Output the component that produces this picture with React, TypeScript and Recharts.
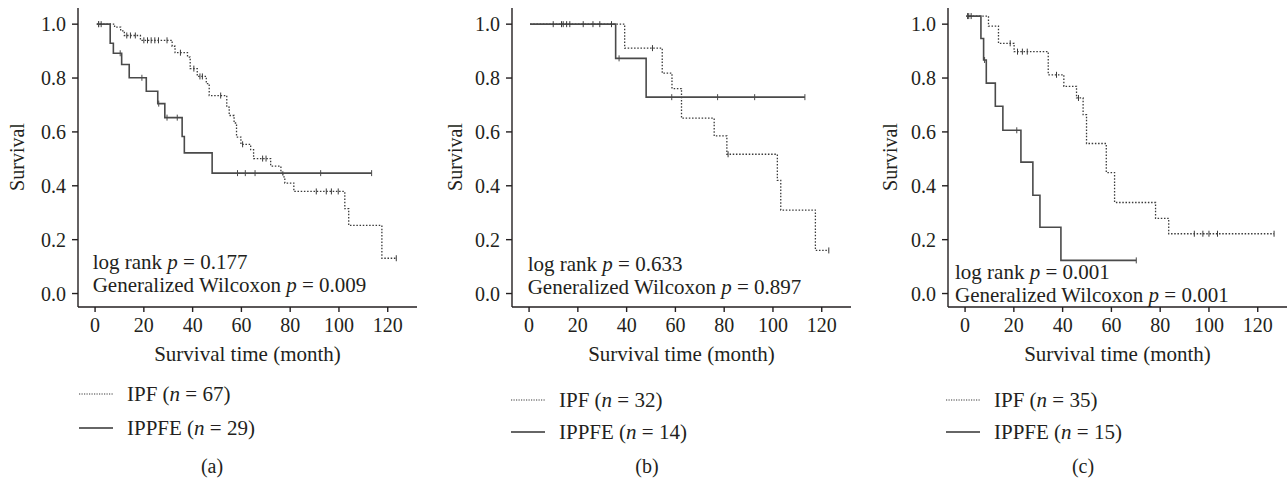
import React from 'react';
import { LineChart, Line, XAxis, YAxis } from 'recharts';

// ---- panel (a) ----
const ipfA_time = [0.7, 8.0, 10.5, 12.0, 18.6, 31.6, 32.8, 37.9, 39.0, 41.9, 45.6, 46.8, 54.0, 55.0, 57.0, 58.0, 59.8, 63.8, 65.0, 72.0, 76.2, 77.0, 77.8, 81.5, 102.4, 104.0, 117.6, 123.5];
const ipfA_surv = [1.0, 0.989, 0.975, 0.958, 0.94, 0.918, 0.894, 0.878, 0.835, 0.806, 0.779, 0.735, 0.692, 0.661, 0.633, 0.581, 0.554, 0.534, 0.501, 0.473, 0.451, 0.433, 0.41, 0.379, 0.315, 0.253, 0.131, 0.131];
const ipfA_cens = [1.5, 2.5, 13.0, 14.5, 16.5, 20.0, 21.5, 23.0, 24.5, 26.0, 29.5, 35.0, 40.5, 43.0, 44.0, 51.5, 60.5, 68.7, 70.1, 90.7, 94.8, 96.9, 99.7, 123.5];
const ippfeA_time = [0.7, 6.2, 7.5, 10.9, 14.0, 21.0, 25.7, 28.6, 35.7, 36.6, 48.0, 113.4];
const ippfeA_surv = [1.0, 0.929, 0.892, 0.85, 0.801, 0.751, 0.705, 0.653, 0.583, 0.522, 0.447, 0.447];
const ippfeA_cens = [1.4, 10.3, 19.2, 26.1, 29.5, 33.7, 58.4, 61.6, 65.6, 92.5, 113.4];

// ---- panel (b) ----
const ipfB_time = [0.4, 39.2, 54.6, 58.6, 62.5, 75.9, 81.1, 101.8, 103.2, 117.4, 122.9];
const ipfB_surv = [1.0, 0.911, 0.818, 0.761, 0.651, 0.585, 0.517, 0.42, 0.31, 0.16, 0.16];
const ipfB_cens = [9.9, 13.3, 14.0, 15.4, 16.7, 22.2, 26.2, 29.0, 33.8, 50.6, 81.6, 122.9];
const ippfeB_time = [0.4, 35.5, 48.0, 113.1];
const ippfeB_surv = [1.0, 0.873, 0.729, 0.729];
const ippfeB_cens = [36.9, 58.5, 77.3, 92.5, 113.1];

// ---- panel (c) ----
const ipfC_time = [0.5, 9.6, 13.7, 20.1, 34.1, 40.5, 45.7, 48.4, 49.8, 57.9, 61.3, 78.1, 83.5, 126.7];
const ipfC_surv = [1.03, 0.993, 0.929, 0.898, 0.812, 0.769, 0.726, 0.664, 0.557, 0.449, 0.338, 0.279, 0.222, 0.222];
const ipfC_cens = [1.5, 2.5, 18.5, 21.5, 23.5, 25.5, 37.5, 46.5, 94.0, 97.5, 100.0, 103.5, 126.7];
const ippfeC_time = [0.5, 6.5, 7.6, 8.7, 12.4, 15.5, 22.9, 27.8, 30.7, 39.3, 70.2];
const ippfeC_surv = [1.03, 0.947, 0.867, 0.781, 0.695, 0.606, 0.488, 0.365, 0.246, 0.123, 0.123];
const ippfeC_cens = [1.0, 8.0, 21.2, 70.2];

const logRankP = ['0.177', '0.633', '0.001'];
const wilcoxonP = ['0.009', '0.897', '0.001'];
const nIPF = [67, 32, 35];
const nIPPFE = [29, 14, 15];
const panelLabels = ['(a)', '(b)', '(c)'];

const xTicks = [0, 20, 40, 60, 80, 100, 120];
const yTicks = [0, 0.2, 0.4, 0.6, 0.8, 1.0];

const FONT = '"Liberation Serif", "Times New Roman", serif';
const INK = '#231f20';
const IPF_COLOR = '#3a3a3a';
const IPPFE_COLOR = '#4a4a4a';

// step points + censor marks, sorted by time
function buildRows(time: number[], surv: number[], cens: number[]) {
    const rows = time.map((t, i) => ({ t, s: surv[i], c: cens.includes(t) }));
    cens.forEach(ct => {
        if (time.includes(ct)) return;
        let s = surv[0];
        for (let i = 0; i < time.length; i++) if (time[i] <= ct) s = surv[i];
        rows.push({ t: ct, s, c: true });
    });
    return rows.sort((a, b) => a.t - b.t);
}

const censorDot = (color: string) => (props: any) => {
    const { cx, cy, payload, index } = props;
    if (!payload || !payload.c) return <g key={`n${index}`} />;
    return <line key={`c${index}`} x1={cx} x2={cx} y1={cy - 3} y2={cy + 3} stroke={color} strokeWidth={1} />;
};

const layouts = [
    { left: 0, yw: 78, ylab: 17, ann: { x: 92.7, y1: 262, y2: 285 }, leg: { x: 79, y1: 394, y2: 428 }, lab: 212 },
    { left: 430, yw: 82, ylab: 455, ann: { x: 527.7, y1: 264, y2: 287 }, leg: { x: 511, y1: 400, y2: 432 }, lab: 647 },
    { left: 860, yw: 88, ylab: 890, ann: { x: 955, y1: 272, y2: 295 }, leg: { x: 946, y1: 400, y2: 432 }, lab: 1083 },
];

const series = [
    { ipf: buildRows(ipfA_time, ipfA_surv, ipfA_cens), ippfe: buildRows(ippfeA_time, ippfeA_surv, ippfeA_cens) },
    { ipf: buildRows(ipfB_time, ipfB_surv, ipfB_cens), ippfe: buildRows(ippfeB_time, ippfeB_surv, ippfeB_cens) },
    { ipf: buildRows(ipfC_time, ipfC_surv, ipfC_cens), ippfe: buildRows(ippfeC_time, ippfeC_surv, ippfeC_cens) },
];

const PLOT_W = 339;

function Panel({ idx }: { idx: number }) {
    const L = layouts[idx];
    const { ipf, ippfe } = series[idx];
    return (
        <div style={{ position: 'absolute', left: L.left, top: 0 }}>
            <LineChart
                width={L.yw + PLOT_W + 1}
                height={380}
                margin={{ top: 8, right: 1, left: 0, bottom: 0 }}
            >
                <XAxis
                    type="number"
                    dataKey="t"
                    domain={[-7, 132]}
                    ticks={xTicks}
                    allowDataOverflow
                    height={73}
                    stroke={INK}
                    strokeWidth={1.4}
                    tickSize={5}
                    tickMargin={6}
                    tick={{ fill: INK, fontSize: 20 }}
                    label={{ value: 'Survival time (month)', position: 'insideBottom', offset: 19, fill: INK, fontSize: 21 }}
                />
                <YAxis
                    type="number"
                    domain={[-0.05, 1.06]}
                    ticks={yTicks}
                    allowDataOverflow
                    width={L.yw}
                    stroke={INK}
                    strokeWidth={1.4}
                    tickSize={6}
                    tickMargin={6}
                    tick={{ fill: INK, fontSize: 20 }}
                    tickFormatter={(v: number) => v.toFixed(1)}
                />
                <Line
                    data={ipf}
                    dataKey="s"
                    type="stepAfter"
                    stroke={IPF_COLOR}
                    strokeWidth={1.3}
                    strokeDasharray="1.5 1.7"
                    dot={censorDot(IPF_COLOR)}
                    activeDot={false}
                    isAnimationActive={false}
                />
                <Line
                    data={ippfe}
                    dataKey="s"
                    type="stepAfter"
                    stroke={IPPFE_COLOR}
                    strokeWidth={1.6}
                    dot={censorDot(IPPFE_COLOR)}
                    activeDot={false}
                    isAnimationActive={false}
                />
            </LineChart>
        </div>
    );
}

const txt: React.CSSProperties = {
    position: 'absolute',
    fontSize: 21,
    lineHeight: '20px',
    color: INK,
    whiteSpace: 'nowrap',
};

export default function App() {
    return (
        <div
            style={{
                position: 'absolute',
                left: 0,
                top: 0,
                width: 1288,
                height: 481,
                background: '#fff',
                overflow: 'hidden',
                fontFamily: FONT,
            }}
        >
            {layouts.map((L, i) => (
                <React.Fragment key={i}>
                    <Panel idx={i} />
                    {/* y axis title */}
                    <div
                        style={{
                            ...txt,
                            fontSize: 20,
                            left: L.ylab - 50,
                            top: 157 - 10,
                            width: 100,
                            textAlign: 'center',
                            transform: 'rotate(-90deg)',
                        }}
                    >
                        Survival
                    </div>
                    {/* test statistics */}
                    <div style={{ ...txt, left: L.ann.x, top: L.ann.y1 - 10 }}>
                        log rank <i>p</i> = {logRankP[i]}
                    </div>
                    <div style={{ ...txt, left: L.ann.x, top: L.ann.y2 - 10 }}>
                        Generalized Wilcoxon <i>p</i> = {wilcoxonP[i]}
                    </div>
                    {/* legend */}
                    <svg
                        style={{ position: 'absolute', left: L.leg.x, top: L.leg.y1 - 5 }}
                        width={34}
                        height={L.leg.y2 - L.leg.y1 + 10}
                    >
                        <line x1={0} x2={34} y1={5} y2={5} stroke={IPF_COLOR} strokeWidth={1.2} strokeDasharray="1.2 1.3" />
                        <line x1={0} x2={34} y1={L.leg.y2 - L.leg.y1 + 5} y2={L.leg.y2 - L.leg.y1 + 5} stroke="#333" strokeWidth={1.6} />
                    </svg>
                    <div style={{ ...txt, left: L.leg.x + 48, top: L.leg.y1 - 10 }}>
                        IPF (<i>n</i> = {nIPF[i]})
                    </div>
                    <div style={{ ...txt, left: L.leg.x + 48, top: L.leg.y2 - 10 }}>
                        IPPFE (<i>n</i> = {nIPPFE[i]})
                    </div>
                    {/* panel label */}
                    <div style={{ ...txt, fontSize: 20, left: L.lab - 50, top: 466 - 10, width: 100, textAlign: 'center' }}>
                        {panelLabels[i]}
                    </div>
                </React.Fragment>
            ))}
        </div>
    );
}
